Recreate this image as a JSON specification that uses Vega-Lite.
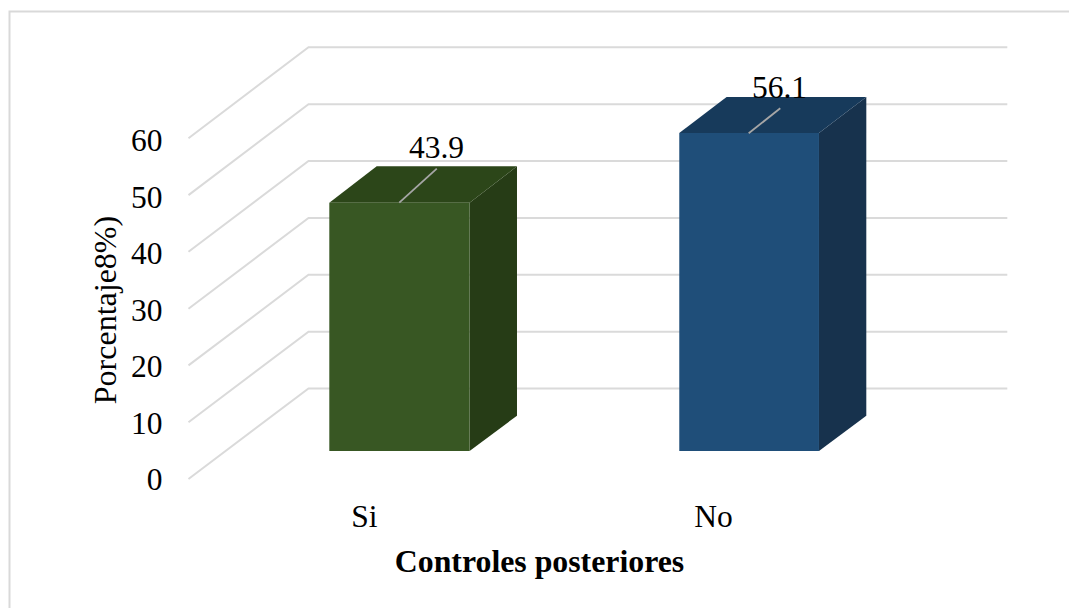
{
"$schema":"https://vega.github.io/schema/vega-lite/v6.json",
"width":1059.5,"height":596.5,
"autosize":{"type":"none"},
"padding":{"left":9.5,"top":11.5,"right":0,"bottom":0},
"background":"white",
"config":{"view":{"stroke":null},"font":"Liberation Serif"},
"encoding":{
 "x":{"field":"x","type":"quantitative","scale":{"domain":[-0.01576,3.0201],"nice":false,"zero":false},
  "axis":{"values":[1,2],"labelExpr":"datum.value==1?'Si':'No'","grid":false,"domain":false,"ticks":false,"tickSize":0,"offset":-81.3,"labelPadding":0,"labelBaseline":"alphabetic","labelFont":"Liberation Serif","labelFontSize":31.5,"labelColor":"#000000","labelFlush":false,"labelOverlap":false,
   "title":"Controles posteriores","titleFont":"Liberation Serif","titleFontSize":31.8,"titleFontWeight":"bold","titleColor":"#000000","titleBaseline":"alphabetic","titleX":529.5,"titleY":45}},
 "y":{"field":"y","type":"quantitative","scale":{"domain":[-22.92,82.65],"nice":false,"zero":false},
  "axis":{"values":[0,10,20,30,40,50,60],"grid":false,"domain":false,"ticks":false,"tickSize":0,"offset":-152.5,"labelPadding":0,"labelOffset":2.5,"labelFont":"Liberation Serif","labelFontSize":31.5,"labelColor":"#000000","labelFlush":false,"labelOverlap":false,
   "title":"Porcentaje8%)","titleFont":"Liberation Serif","titleFontSize":32,"titleFontWeight":"normal","titleColor":"#000000","titleAngle":-90,"titleBaseline":"alphabetic","titleX":-47,"titleY":298}}
},
"layer":[
 {"data":{"values":[
   {"x":-0.01576,"y":-22.92},{"x":-0.01576,"y":82.65},{"x":3.0201,"y":82.65}]},
  "mark":{"type":"line","stroke":"#d9d9d9","strokeWidth":2}},
 {"data":{"values":[
   {"nivel":0,"x":0.4971,"y":-0.09},{"nivel":0,"x":0.841,"y":15.93},{"nivel":0,"x":2.8433,"y":15.93},
   {"nivel":10,"x":0.4971,"y":9.96},{"nivel":10,"x":0.841,"y":25.98},{"nivel":10,"x":2.8433,"y":25.98},
   {"nivel":20,"x":0.4971,"y":20.02},{"nivel":20,"x":0.841,"y":36.05},{"nivel":20,"x":2.8433,"y":36.05},
   {"nivel":30,"x":0.4971,"y":30.05},{"nivel":30,"x":0.841,"y":46.11},{"nivel":30,"x":2.8433,"y":46.11},
   {"nivel":40,"x":0.4971,"y":40.12},{"nivel":40,"x":0.841,"y":56.18},{"nivel":40,"x":2.8433,"y":56.18},
   {"nivel":50,"x":0.4971,"y":50.16},{"nivel":50,"x":0.841,"y":66.25},{"nivel":50,"x":2.8433,"y":66.25},
   {"nivel":60,"x":0.4971,"y":60.21},{"nivel":60,"x":0.841,"y":76.32},{"nivel":60,"x":2.8433,"y":76.32}]},
  "mark":{"type":"line","stroke":"#dadada","strokeWidth":2},
  "encoding":{"detail":{"field":"nivel","type":"nominal"}}},
 {"data":{"values":[
   {"cara":"Si lateral","x":1.3026,"y":4.87,"y2":48.81},{"cara":"Si lateral","x":1.4384,"y":11.12,"y2":55.26},
   {"cara":"Si superior","x":0.9006,"y":48.81,"y2":48.81},{"cara":"Si superior","x":1.0364,"y":48.81,"y2":55.26},{"cara":"Si superior","x":1.3026,"y":48.81,"y2":55.26},{"cara":"Si superior","x":1.4384,"y":55.26,"y2":55.26},
   {"cara":"No lateral","x":2.3037,"y":4.87,"y2":61.15},{"cara":"No lateral","x":2.4393,"y":11.12,"y2":67.52},
   {"cara":"No superior","x":1.9034,"y":61.15,"y2":61.15},{"cara":"No superior","x":2.039,"y":61.15,"y2":67.52},{"cara":"No superior","x":2.3037,"y":61.15,"y2":67.52},{"cara":"No superior","x":2.4393,"y":67.52,"y2":67.52}]},
  "mark":{"type":"area","opacity":1},
  "encoding":{"y2":{"field":"y2"},
   "color":{"field":"cara","type":"nominal","legend":null,
    "scale":{"domain":["Si frontal","Si lateral","Si superior","No frontal","No lateral","No superior"],"range":["#385723","#263c16","#2c4619","#1f4e79","#17324d","#173a5b"]}}}},
 {"data":{"values":[
   {"cara":"Si frontal","x":0.9006,"x2":1.3026,"y":48.81,"y2":4.87},
   {"cara":"No frontal","x":1.9034,"x2":2.3037,"y":61.15,"y2":4.87}]},
  "mark":{"type":"rect"},
  "encoding":{"x2":{"field":"x2"},"y2":{"field":"y2"},
   "color":{"field":"cara","type":"nominal","legend":null}}},
 {"data":{"values":[
   {"categoria":"Si","x":1.1011,"y":48.81},{"categoria":"Si","x":1.2086,"y":54.83},
   {"categoria":"No","x":2.1023,"y":61.1},{"categoria":"No","x":2.1928,"y":65.52}]},
  "mark":{"type":"line","stroke":"#a6a6a6","strokeWidth":1.8},
  "encoding":{"detail":{"field":"categoria","type":"nominal"}}},
 {"data":{"values":[
   {"etiqueta":"43.9","x":1.2077,"y":56.73},
   {"etiqueta":"56.1","x":2.1905,"y":67.35}]},
  "mark":{"type":"text","font":"Liberation Serif","fontSize":31.5,"color":"#000000","align":"center","baseline":"alphabetic"},
  "encoding":{"text":{"field":"etiqueta","type":"nominal"}}}
]
}
